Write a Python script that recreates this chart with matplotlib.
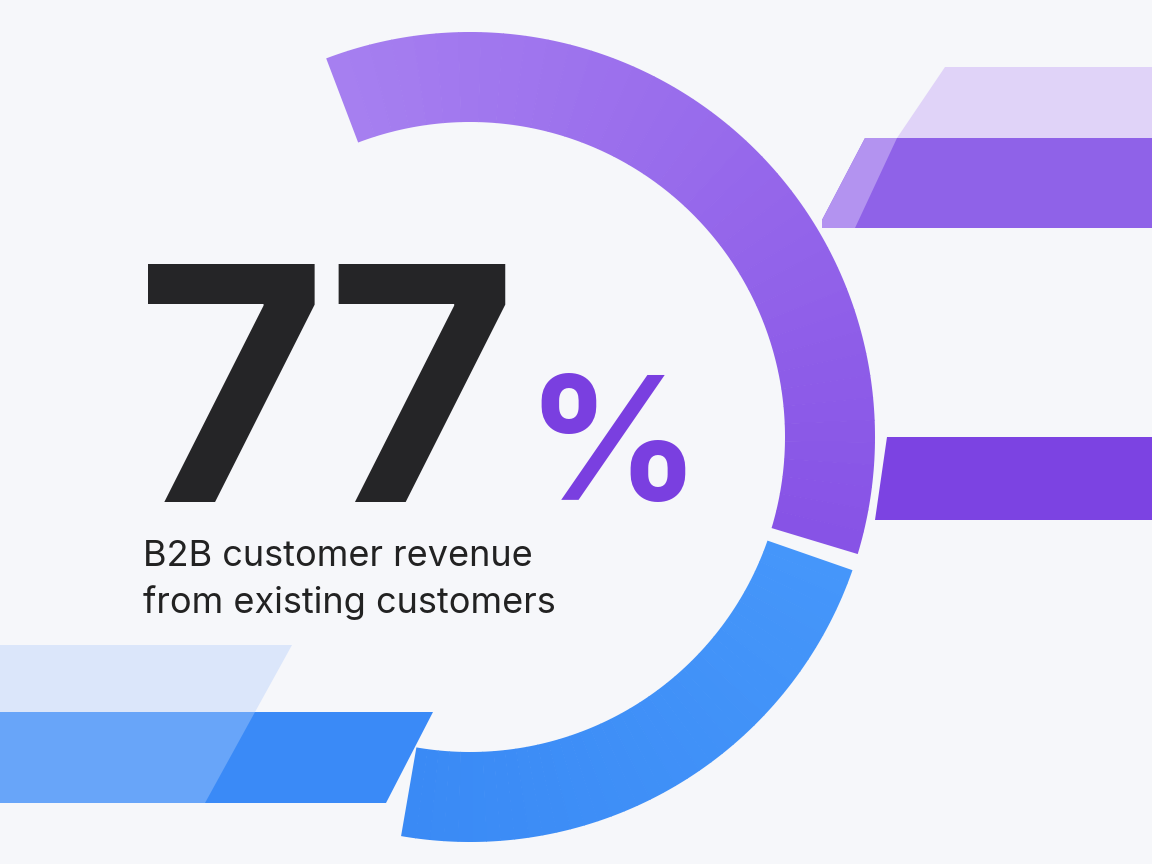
import matplotlib
matplotlib.use("Agg")
import matplotlib.pyplot as plt
from matplotlib.patches import Wedge, Polygon
import numpy as np

# data
headline_value = "77"
headline_unit = "%"
subtitle_lines = ["B2B customer revenue", "from existing customers"]
segment_spans_deg = [130, 83]          # purple (share), blue (rest)
segment_start_deg = 112
segment_colors_start = ["#a67ff0", "#4596fa"]
segment_colors_end = ["#8753e6", "#3a8af5"]

fig = plt.figure(figsize=(11.52, 8.64), dpi=100)
fig.patch.set_facecolor("#f6f7fa")
ax = fig.add_axes([0, 0, 1, 1])
ax.set_xlim(0, 1152); ax.set_ylim(864, 0); ax.axis("off")
ax.set_facecolor("#f6f7fa")

def hexrgb(h):
    return np.array([int(h[i:i+2], 16) for i in (1, 3, 5)]) / 255

cx, cy, r_out, width = 470, 437, 405, 90
gap = 2.5
start = segment_start_deg
for span, c0, c1 in zip(segment_spans_deg, segment_colors_start, segment_colors_end):
    a0, a1 = start - gap / 2, start - span + gap / 2
    n = 40
    edges = np.linspace(a0, a1, n + 1)
    for i in range(n):
        t = i / (n - 1)
        col = (1 - t) * hexrgb(c0) + t * hexrgb(c1)
        hi, lo = edges[i], edges[i + 1]
        ax.add_patch(Wedge((cx, cy), r_out, -hi - 0.05, -lo + 0.05, width=width,
                           facecolor=col, edgecolor="none"))
    start -= span

# right decorative bars
ax.add_patch(Polygon([(945, 67), (1152, 67), (1152, 138), (897, 138)], closed=True,
                     facecolor="#e0d3f8", edgecolor="none"))
ax.add_patch(Polygon([(865, 138), (1152, 138), (1152, 228), (822, 228), (822, 220)], closed=True,
                     facecolor="#8f62e8", edgecolor="none"))
ax.add_patch(Polygon([(865, 138), (897, 138), (855, 228), (822, 228), (822, 220)], closed=True,
                     facecolor="#b393f0", edgecolor="none"))
ax.add_patch(Polygon([(887, 437), (1152, 437), (1152, 520), (875, 520)], closed=True,
                     facecolor="#7c43e2", edgecolor="none"))

# left-bottom decorative bars
ax.add_patch(Polygon([(0, 645), (292, 645), (255, 712), (0, 712)], closed=True,
                     facecolor="#dbe6fa", edgecolor="none"))
ax.add_patch(Polygon([(0, 712), (433, 712), (386, 803), (0, 803)], closed=True,
                     facecolor="#3a8af7", edgecolor="none"))
ax.add_patch(Polygon([(0, 712), (255, 712), (205, 803), (0, 803)], closed=True,
                     facecolor="#68a5f9", edgecolor="none"))

# text
ax.text(136, 502, headline_value, fontsize=236, fontweight="bold", family="Inter",
        color="#252527", ha="left", va="baseline")
ax.text(525, 500, headline_unit, fontsize=124, fontweight="bold", family="Inter",
        color="#7a3fe0", ha="left", va="baseline")
ax.text(143, 566, subtitle_lines[0], fontsize=26, family="Inter", color="#222222",
        ha="left", va="baseline")
ax.text(143, 613, subtitle_lines[1], fontsize=26, family="Inter", color="#222222",
        ha="left", va="baseline")

fig.savefig("out.png", dpi=100, facecolor=fig.get_facecolor())
